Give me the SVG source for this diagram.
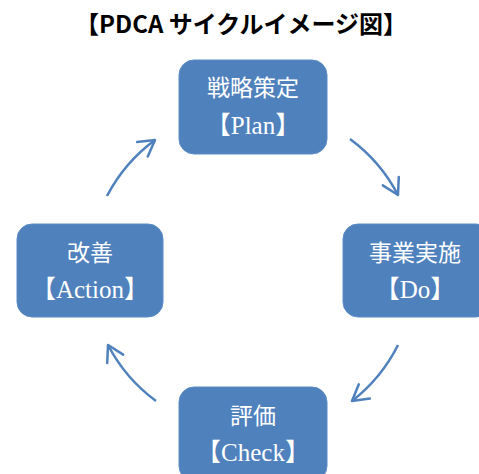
<svg xmlns="http://www.w3.org/2000/svg" width="479" height="474" viewBox="0 0 479 474">
<style>
.box{fill:#4F81BD;stroke:#5B8CC8;stroke-width:1}
.lbl{font-family:"Liberation Serif","Noto Sans CJK JP",serif;font-size:23px;fill:#FFFFFF;text-anchor:middle}
.lbl2{font-family:"Liberation Serif","Noto Sans CJK JP",serif;font-size:25px;fill:#FFFFFF;text-anchor:middle}
.arc{fill:none;stroke:#4F81BD;stroke-width:2.5}
.title{font-family:"Noto Sans CJK JP",sans-serif;font-weight:bold;font-size:24px;fill:#000;text-anchor:middle}
</style>
<defs>
<marker id="ah" markerUnits="userSpaceOnUse" viewBox="-20 -12 24 24" refX="0" refY="0" markerWidth="24" markerHeight="24" orient="auto">
<path d="M -15.6 -9 L 0 0 L -15.6 9" fill="none" stroke="#4F81BD" stroke-width="2.5" stroke-linecap="round" stroke-linejoin="round"/>
</marker>
</defs>
<rect width="479" height="474" fill="#FFFFFF"/>
<text class="title" x="241" y="33" textLength="332" lengthAdjust="spacingAndGlyphs">【PDCA サイクルイメージ図】</text>
<g id="connectors">
<path class="arc" d="M 350 139 A 163 163 0 0 1 398 195" marker-end="url(#ah)"/>
<path class="arc" d="M 398 345 A 163 163 0 0 1 352 401" marker-end="url(#ah)"/>
<path class="arc" d="M 156 401 A 163 163 0 0 1 108 345" marker-end="url(#ah)"/>
<path class="arc" d="M 107 196 A 163 163 0 0 1 155 140" marker-end="url(#ah)"/>
</g>
<g id="plan">
<rect class="box" x="179" y="60" width="148" height="94" rx="15"/>
<text class="lbl" x="253" y="96">戦略策定</text>
<text class="lbl2" x="253" y="134">【Plan】</text>
</g>
<g id="do">
<rect class="box" x="343" y="224" width="148" height="93" rx="15"/>
<text class="lbl" x="415" y="261">事業実施</text>
<text class="lbl2" x="415" y="298">【Do】</text>
</g>
<g id="check">
<rect class="box" x="179" y="387" width="148" height="94" rx="15"/>
<text class="lbl" x="253" y="424">評価</text>
<text class="lbl2" x="253" y="461">【Check】</text>
</g>
<g id="action">
<rect class="box" x="17" y="224" width="146" height="93" rx="15"/>
<text class="lbl" x="90" y="261">改善</text>
<text class="lbl2" x="90" y="298">【Action】</text>
</g>
</svg>
